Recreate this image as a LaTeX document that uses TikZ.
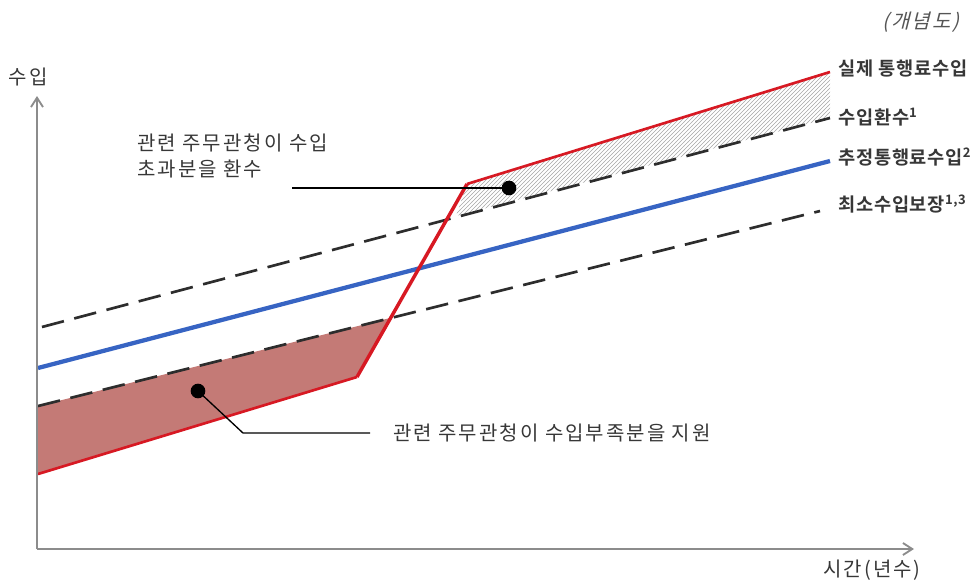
\documentclass[tikz,border=0pt]{standalone}
\usepackage{fontspec}
\setmainfont{Noto Sans CJK KR}
\newfontfamily\krspaced[LetterSpace=10]{Noto Sans CJK KR}
\newfontfamily\krbold[LetterSpace=4]{Noto Sans CJK KR Bold}
\newfontfamily\krslant[FakeSlant=0.25,LetterSpace=10]{Noto Sans CJK KR}
\usetikzlibrary{arrows.meta,patterns}
\definecolor{txt}{RGB}{55,55,55}
\definecolor{axisgray}{RGB}{140,140,140}
\definecolor{redline}{RGB}{215,25,35}
\definecolor{blueline}{RGB}{55,100,195}
\definecolor{dashgray}{RGB}{45,45,45}
\definecolor{fillred}{RGB}{196,122,118}
\tikzset{
  axisline/.style={draw=axisgray,line width=1.6pt,-{Straight Barb[length=7pt,width=9pt,line width=1.4pt]}},
  dashline/.style={draw=dashgray,line width=2pt,dash pattern=on 17pt off 8pt},
  redl/.style={draw=redline,line width=2pt,line join=round},
  bluel/.style={draw=blueline,line width=3.2pt},
  leader/.style={draw=black,line width=1pt},
  dotmark/.style={circle,fill=black,inner sep=0pt,minimum size=11pt},
  lbl/.style={text=txt,font=\krspaced\fontsize{15}{19}\selectfont,inner sep=0pt},
  rlbl/.style={text=txt,font=\krbold\fontsize{14}{17}\selectfont,inner sep=0pt,anchor=west},
}
\begin{document}
\begin{tikzpicture}[x=0.75pt,y=-0.75pt]
\useasboundingbox (0,0) rectangle (975,586);
% shortfall area
\fill[fillred] (38,406) -- (390,318) -- (357,377) -- (38,474) -- cycle;
% excess area
\fill[pattern=north east lines,pattern color=gray!70] (467,184) -- (830,72) -- (830,118) -- (456,216) -- cycle;
% lines
\draw[dashline] (42,327) -- (830,118);
\draw[bluel] (38,368) -- (830,161);
\draw[dashline] (38,406) -- (820,211);
\draw[redl] (38,474) -- (357,377);
\draw[redl,line width=2.6pt] (357,377) -- (467,184);
\draw[redl] (467,184) -- (830,72);
% axes
\coordinate (o) at (37,549);
\coordinate (ytip) at (37,96);
\coordinate (xtip) at (914,549);
\draw[axisline] (o) -- (ytip);
\draw[axisline] (o) -- (xtip);
\node[lbl] (ylab) at (28,77) {수입};
\node[lbl] (xlab) at (872,570) {시간(년수)};
\node[text=txt!85,font=\krslant\fontsize{15}{18}\selectfont,inner sep=0pt] (title) at (921,22) {(개념도)};
% right labels
\node[rlbl] (l1) at (838,69) {실제 통행료수입};
\node[rlbl] (l2) at (838,117) {수입환수\textsuperscript{1}};
\node[rlbl] (l3) at (838,157) {추정통행료수입\textsuperscript{2}};
\node[rlbl] (l4) at (838,204) {최소수입보장\textsuperscript{1,3}};
% annotations
\node[dotmark] (d1) at (509,188) {};
\coordinate (e1) at (292,188);
\draw[leader] (d1.center) -- (e1);
\node[lbl,anchor=north west,align=left] (t1) at (137,134) {관련 주무관청이 수입\\초과분을 환수};
\node[dotmark] (d2) at (198,391) {};
\coordinate (k2) at (243,433);
\coordinate (e2) at (370,433);
\draw[leader] (d2.center) -- (k2) -- (e2);
\node[lbl,anchor=west] (t2) at (393,433) {관련 주무관청이 수입부족분을 지원};
\end{tikzpicture}
\end{document}
